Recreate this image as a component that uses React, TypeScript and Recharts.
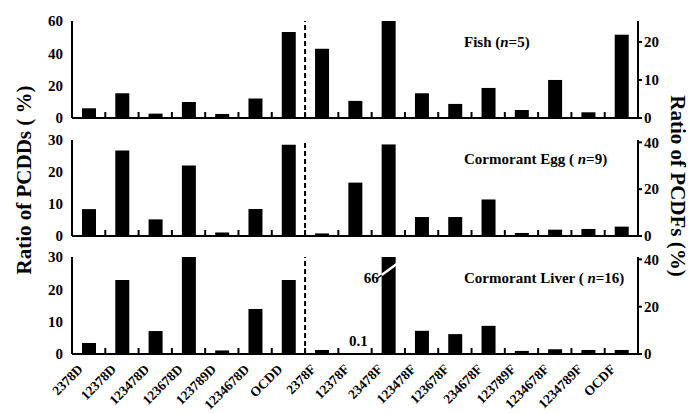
import React from "react";
import { BarChart, Bar, XAxis, YAxis, ReferenceLine, LabelList } from "recharts";

// congeners, PCDDs first then PCDFs
const categories = [
  "2378D", "12378D", "123478D", "123678D", "123789D", "1234678D", "OCDD",
  "2378F", "12378F", "23478F", "123478F", "123678F", "234678F", "123789F",
  "1234678F", "1234789F", "OCDF",
];

const fishD = [6.0, 15.3, 2.7, 9.9, 2.5, 12.0, 53.2];
const fishF = [18.2, 4.5, 26, 6.5, 3.7, 7.9, 2.1, 10.0, 1.5, 21.9];
const eggD = [8.4, 26.7, 5.2, 22.0, 1.1, 8.4, 28.5];
const eggF = [1.1, 22.8, 39.1, 8.1, 8.1, 15.6, 1.3, 2.7, 3.0, 4.0];
const liverD = [3.4, 22.9, 7.1, 30, 1.1, 13.9, 22.9];
const liverF = [1.7, 0.1, 66, 9.8, 8.4, 11.9, 1.3, 2.0, 1.7, 1.7];
const liverFNotes = ["", "0.1", "66", "", "", "", "", "", "", ""];

const W = 693;
const PLOT_L = 72;
const PLOT_R = 638;
const N = categories.length;
const BAND = (PLOT_R - PLOT_L) / N;
const PAD_TOP = 10;
const FONT = '"Liberation Serif", "Times New Roman", serif';
const idx = categories.map((_, i) => i);
const axisStyle = { stroke: "#000", strokeWidth: 2 };
const tickStyle = { fill: "#000", fontSize: 15, fontWeight: 700, fontFamily: FONT };

function buildRows(d: number[], f: number[], notes?: string[]) {
  return categories.map((name, i) => ({
    i,
    name,
    d: i < d.length ? d[i] : null,
    f: i >= d.length ? f[i - d.length] : null,
    note: notes ? notes[i - d.length] ?? "" : "",
  }));
}

function CatTick(props: any) {
  const { x, y, payload, showNames } = props;
  const i = payload.value;
  const ax = x - 5;
  const ay = y + 16;
  return (
    <g>
      {i < N - 1 && (
        <line x1={x + BAND / 2} x2={x + BAND / 2} y1={y} y2={y - 6} stroke="#000" strokeWidth={2} />
      )}
      {showNames && (
        <text
          x={ax}
          y={ay}
          transform={`rotate(-45, ${ax}, ${ay})`}
          textAnchor="end"
          fontFamily={FONT}
          fontWeight={700}
          fontSize={13.5}
          fill="#000"
        >
          {categories[i]}
        </text>
      )}
    </g>
  );
}

function FBar(props: any) {
  const { x, y, width, height } = props;
  if (width == null || height == null || !(height > 0)) return null;
  const over = y < PAD_TOP - 1;
  return (
    <g>
      <rect x={x} y={y} width={width} height={height} fill="#000" />
      {over && props.broken && (
        <g>
          <line x1={x - 5} y1={PAD_TOP + 22} x2={x} y2={PAD_TOP + 18} stroke="#000" strokeWidth={1.5} />
          <line x1={x} y1={PAD_TOP + 18} x2={x + width + 1} y2={PAD_TOP + 7} stroke="#fff" strokeWidth={2.5} />
        </g>
      )}
    </g>
  );
}

function NoteLabel(props: any) {
  const { x, y, width, value } = props;
  if (!value) return null;
  const over = y < PAD_TOP - 1;
  return (
    <text
      x={over ? x - 3 : x + width / 2 + 3}
      y={over ? PAD_TOP + 26 : y - 8}
      textAnchor={over ? "end" : "middle"}
      fontFamily={FONT}
      fontWeight={700}
      fontSize={15}
      fill="#000"
    >
      {value}
    </text>
  );
}

type PanelProps = {
  top: number;
  plotH: number;
  bottom: number;
  rows: any[];
  dMax: number;
  dTicks: number[];
  fMax: number;
  fTicks: number[];
  showNames?: boolean;
  broken?: boolean;
};

function Panel({ top, plotH, bottom, rows, dMax, dTicks, fMax, fTicks, showNames, broken }: PanelProps) {
  const H = PAD_TOP + plotH + bottom;
  return (
    <div style={{ position: "absolute", left: 0, top: top - PAD_TOP }}>
      <BarChart
        width={W}
        height={H}
        data={rows}
        margin={{ top: PAD_TOP, right: W - PLOT_R - 40, bottom: 0, left: PLOT_L - 60 }}
      >
        <XAxis
          xAxisId="x"
          type="number"
          dataKey="i"
          domain={[-0.5, N - 0.5]}
          ticks={idx}
          interval={0}
          height={bottom}
          axisLine={axisStyle}
          tickLine={false}
          tickSize={0}
          tickMargin={0}
          tick={(p: any) => <CatTick {...p} showNames={showNames} />}
        />
        <XAxis xAxisId="xf" type="number" dataKey="i" domain={[-0.5, N - 0.5]} hide />
        <XAxis
          xAxisId="top"
          orientation="top"
          type="number"
          dataKey="i"
          domain={[-0.5, N - 0.5]}
          height={0}
          tick={false}
          tickLine={false}
          axisLine={axisStyle}
        />
        <YAxis
          yAxisId="L"
          domain={[0, dMax]}
          ticks={dTicks}
          interval={0}
          width={60}
          allowDataOverflow
          axisLine={axisStyle}
          tickLine={false}
          tickSize={0}
          tickMargin={9}
          tick={tickStyle}
        />
        <YAxis
          yAxisId="R"
          orientation="right"
          domain={[0, fMax]}
          ticks={fTicks}
          interval={0}
          width={40}
          allowDataOverflow
          axisLine={axisStyle}
          tickLine={{ stroke: "#000", strokeWidth: 2 }}
          tickSize={4}
          tickMargin={2}
          tick={tickStyle}
        />
        <ReferenceLine xAxisId="x" yAxisId="L" x={6.5} stroke="#000" strokeWidth={2} strokeDasharray="5 3" />
        <Bar xAxisId="x" yAxisId="L" dataKey="d" fill="#000" barSize={14} isAnimationActive={false} />
        <Bar
          xAxisId="xf"
          yAxisId="R"
          dataKey="f"
          fill="#000"
          barSize={14}
          isAnimationActive={false}
          shape={(p: any) => <FBar {...p} broken={broken} />}
        >
          <LabelList dataKey="note" content={NoteLabel} />
        </Bar>
      </BarChart>
    </div>
  );
}

export default function App() {
  const labelStyle = { fontFamily: FONT, fontWeight: 700, fontSize: 15, fill: "#000" };
  return (
    <div style={{ position: "absolute", left: 0, top: 0, width: W, height: 414, background: "#fff" }}>
      <Panel top={21} plotH={97} bottom={9} rows={buildRows(fishD, fishF)}
        dMax={60} dTicks={[0, 20, 40, 60]} fMax={25.5} fTicks={[0, 10, 20]} />
      <Panel top={140} plotH={96} bottom={9} rows={buildRows(eggD, eggF)}
        dMax={30} dTicks={[0, 10, 20, 30]} fMax={41} fTicks={[0, 20, 40]} />
      <Panel top={257} plotH={97} bottom={60} rows={buildRows(liverD, liverF, liverFNotes)}
        dMax={30} dTicks={[0, 10, 20, 30]} fMax={41} fTicks={[0, 20, 40]} showNames broken />
      <svg width={W} height={414} style={{ position: "absolute", left: 0, top: 0, pointerEvents: "none" }}>
        <text transform="translate(31,180) rotate(-90)" textAnchor="middle"
          fontFamily={FONT} fontWeight={700} fontSize={21} fill="#000">
          Ratio of PCDDs ( %)
        </text>
        <text transform="translate(671,186) rotate(90)" textAnchor="middle"
          fontFamily={FONT} fontWeight={700} fontSize={21} fill="#000">
          Ratio of PCDFs (%)
        </text>
        <text x={464} y={47} {...labelStyle}>
          Fish (<tspan fontStyle="italic">n</tspan>=5)
        </text>
        <text x={464} y={164} {...labelStyle}>
          Cormorant Egg ( <tspan fontStyle="italic">n</tspan>=9)
        </text>
        <text x={464} y={283} {...labelStyle}>
          Cormorant Liver ( <tspan fontStyle="italic">n</tspan>=16)
        </text>
      </svg>
    </div>
  );
}
